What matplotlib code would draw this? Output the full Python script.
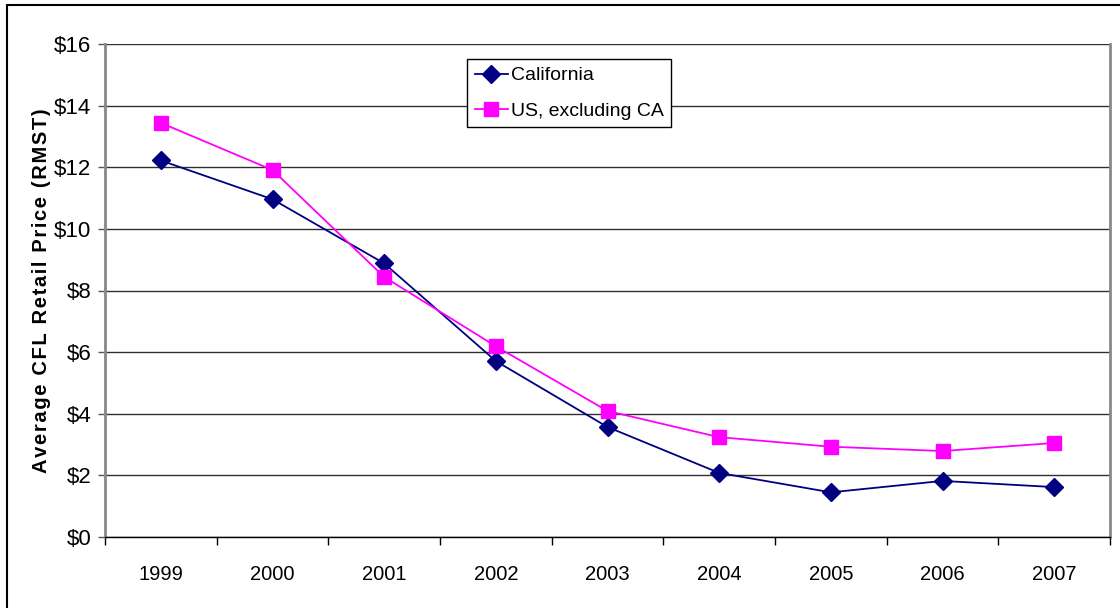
import matplotlib
matplotlib.use("Agg")
import matplotlib.pyplot as plt
from matplotlib.patches import Rectangle
from matplotlib.ticker import MultipleLocator, FixedLocator, FuncFormatter

years = ["1999", "2000", "2001", "2002", "2003", "2004", "2005", "2006", "2007"]
california = [12.22, 10.96, 8.88, 5.71, 3.57, 2.08, 1.45, 1.82, 1.62]
us_excl_ca = [13.44, 11.91, 8.44, 6.19, 4.09, 3.24, 2.93, 2.79, 3.05]

plt.rcParams["font.family"] = ["Liberation Sans", "DejaVu Sans"]

fig = plt.figure(figsize=(11.2, 6.08), dpi=100)
ax = fig.add_axes([105 / 1120, 1 - 537 / 608, 1005 / 1120, 493 / 608])

x = list(range(len(years)))
ax.plot(x, california, color="#000080", lw=1.3, marker="D", ms=9.5,
        label="California", zorder=3)
ax.plot(x, us_excl_ca, color="#FF00FF", lw=1.3, marker="s", ms=9.5,
        label="US, excluding CA", zorder=3)

ax.set_xlim(-0.5, len(years) - 0.5)
ax.set_ylim(0, 16)
ax.yaxis.set_major_locator(MultipleLocator(2))
ax.yaxis.set_major_formatter(FuncFormatter(lambda v, p: f"${v:.0f}"))
ax.grid(axis="y", color="#303030", lw=1)
ax.set_axisbelow(True)

ax.set_xticks(x)
ax.set_xticklabels(years)
ax.xaxis.set_minor_locator(FixedLocator([i + 0.5 for i in range(-1, len(years))]))
ax.tick_params(axis="x", which="major", length=0, pad=20, labelsize=14.5)
ax.tick_params(axis="x", which="minor", length=6, width=1, color="black")
ax.tick_params(axis="y", length=5, width=1, color="#555555", pad=5, labelsize=16)

for s in ["left", "right"]:
    ax.spines[s].set_color("#888888")
    ax.spines[s].set_linewidth(2)
ax.spines["top"].set_visible(False)
ax.spines["bottom"].set_color("black")
ax.spines["bottom"].set_linewidth(1)

ylab = "\u200a".join("Average CFL Retail Price (RMST)")
ax.set_ylabel(ylab, fontsize=14.5, fontweight="bold", labelpad=2)

leg = ax.legend(loc="upper left", bbox_to_anchor=(362 / 1005, 1 - 15 / 493),
                frameon=True, fancybox=False, shadow=False, fontsize=14,
                handlelength=1.7, borderpad=0.4, labelspacing=0.9,
                handletextpad=0.15, borderaxespad=0)
leg.get_frame().set_edgecolor("black")
leg.get_frame().set_linewidth(1)
leg.get_frame().set_alpha(1)

fig.patches.append(Rectangle((7 / 1120, -0.1), 1.2, 1 - 5 / 608 + 0.1,
                             transform=fig.transFigure, fill=False,
                             edgecolor="black", lw=1.5))

fig.savefig("out.png", dpi=100)
